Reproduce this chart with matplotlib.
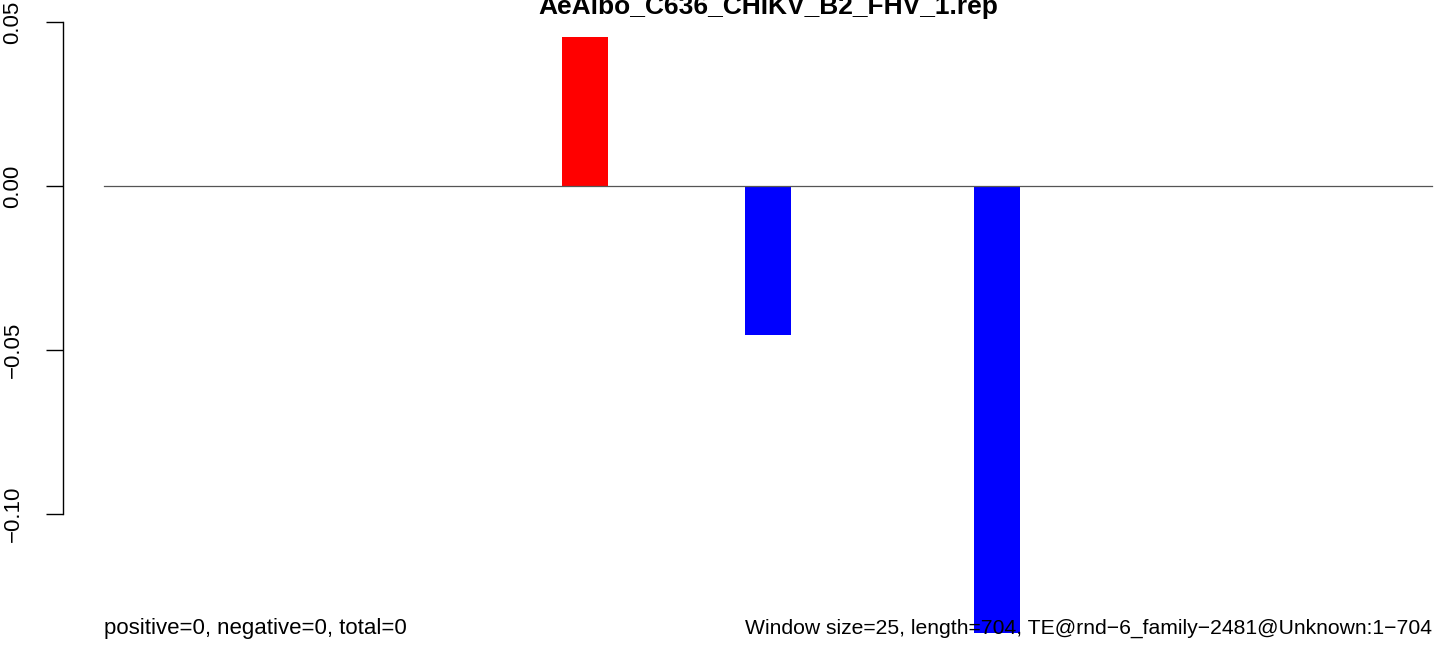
import matplotlib
matplotlib.use("Agg")
import matplotlib.pyplot as plt
import numpy as np

plt.rcParams['font.family'] = ['Liberation Sans', 'DejaVu Sans']

title = "AeAlbo_C636_CHIKV_B2_FHV_1.rep"
n_windows = 29
bar_windows = [10, 14, 19]
bar_values = [0.0455, -0.0455, -0.1364]
yticks = [-0.10, -0.05, 0.00, 0.05]
ytick_labels = ["\u22120.10", "\u22120.05", "0.00", "0.05"]
left_note = "positive=0, negative=0, total=0"
right_note = "Window size=25, length=704, TE@rnd\u22126_family\u22122481@Unknown:1\u2212704"

W, H = 1444, 646
fig = plt.figure(figsize=(W / 100, H / 100), dpi=100)
ax = fig.add_axes([63 / W, 0, 1 - 63 / W, 1])

slot = (1432 - 104) / n_windows
ax.set_xlim((63 - 104) / slot, (W - 104) / slot)
ppu = 164 / 0.05
ax.set_ylim(-(H - 186) / ppu, 186 / ppu)

colors = ['#FF0000' if v > 0 else '#0000FF' for v in bar_values]
ax.bar(bar_windows, bar_values, width=1, align='edge', color=colors, linewidth=0, zorder=2)
ax.plot([0, n_windows], [0, 0], color='#555555', lw=0.9, zorder=3)

for s in ['top', 'right', 'bottom']:
    ax.spines[s].set_visible(False)
ax.spines['left'].set_bounds(-0.10, 0.05)
ax.spines['left'].set_linewidth(1.0)
ax.set_xticks([])
ax.set_yticks(yticks)
ax.set_yticklabels(ytick_labels, rotation=90, va='center', fontsize=16)
ax.tick_params(axis='y', length=12, width=1.0, pad=16.5)

fig.text(768 / W, 1 - 14 / H, title, ha='center', va='baseline', fontsize=19, fontweight='bold')
fig.text(104 / W, 1 - 634 / H, left_note, ha='left', va='baseline', fontsize=16, zorder=5)
fig.text(1432 / W, 1 - 634 / H, right_note, ha='right', va='baseline', fontsize=15.25, zorder=5)

fig.savefig("out.png", dpi=100)
